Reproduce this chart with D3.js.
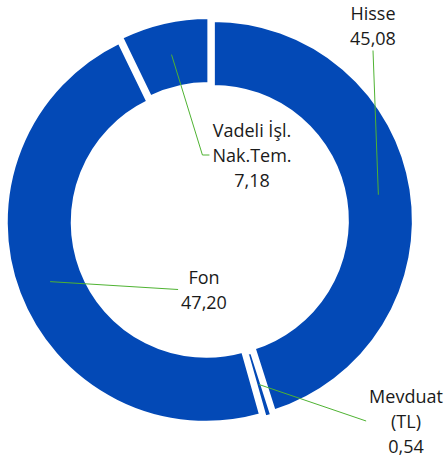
<!DOCTYPE html>
<html>
<head>
<meta charset="utf-8">
<script src="https://cdn.jsdelivr.net/npm/d3@7"></script>
<style>
  html, body { margin: 0; padding: 0; background: #fff; }
  .leader { fill: none; stroke: #4fb332; stroke-width: 1; }
  .slice { fill: #0349b6; stroke: #fff; stroke-width: 3; }
</style>
</head>
<body>
<div id="donut-chart"></div>
<script>
// data, clockwise from 12 o'clock
var categories = ['Hisse', 'Mevduat\n(TL)', 'Fon', 'Vadeli İşl.\nNak.Tem.'];
var values = [45.08, 0.54, 47.20, 7.18];

// manual label placement (label centre x, first baseline y), like the source file
var labelX = [373, 406, 204, 252];
var labelY = [19.5, 403, 284, 137];

var fmt = d3.formatLocale({ decimal: ',', thousands: '.', grouping: [3], currency: ['', ''] }).format('.2f');

var render = function() {
  var width = 445,
    height = 468;
  var cx = 209.7,
    cy = 221;
  var outerR = 200,
    innerR = 134,
    explode = 3.7,
    lineHeight = 25;

  var containerElement = d3.select('#donut-chart');
  containerElement.html('');

  var svg = containerElement
    .append('svg')
    .attr('width', width)
    .attr('height', height);

  var chartElement = svg.append('g').attr('transform', `translate(${cx},${cy})`);

  var data = categories.map((c, i) => ({ name: c, amt: values[i], lx: labelX[i], ly: labelY[i] }));

  var pie = d3
    .pie()
    .sort(null)
    .value(d => d.amt);

  var arc = d3
    .arc()
    .innerRadius(innerR)
    .outerRadius(outerR);

  var arcs = pie(data);

  // offset of each exploded slice
  var shift = function(d) {
    var a = (d.startAngle + d.endAngle) / 2;
    return [Math.sin(a) * explode, -Math.cos(a) * explode];
  };

  chartElement
    .append('g')
    .attr('class', 'slices')
    .selectAll('path')
    .data(arcs)
    .enter()
    .append('path')
    .attr('class', 'slice')
    .attr('transform', d => `translate(${shift(d)})`)
    .attr('d', arc);

  // labels (absolute coords)
  var labels = svg
    .append('g')
    .attr('class', 'labels')
    .selectAll('text')
    .data(arcs)
    .enter()
    .append('text')
    .attr('text-anchor', 'middle')
    .attr('font-family', "'Open Sans', sans-serif")
    .attr('font-size', 18)
    .attr('fill', '#1a1a1a');

  labels.each(function(d) {
    var lines = d.data.name.split('\n').concat([fmt(d.data.amt)]);
    var t = d3.select(this);
    lines.forEach((l, i) => {
      t.append('tspan')
        .attr('x', d.data.lx)
        .attr('y', d.data.ly + i * lineHeight)
        .text(l);
    });
  });

  // leader lines: from ring centroid to label
  var leaders = svg.insert('g', '.labels').attr('class', 'leaders');

  labels.each(function(d) {
    var box = this.getBBox();
    var c = arc.centroid(d);
    var s = shift(d);
    var x0 = cx + c[0] + s[0],
      y0 = cy + c[1] + s[1];
    var pts;

    if (box.y + box.height < y0 && x0 > box.x && x0 < box.x + box.width) {
      // label sits above the slice: go to bottom centre
      pts = [[x0, y0], [d.data.lx, box.y + box.height + 1]];
    } else {
      var ex = box.x - 3,
        ey = box.y + box.height / 2;
      if (Math.abs(ey - y0) > Math.abs(ex - x0)) {
        pts = [[x0, y0], [ex - 7, ey], [ex, ey]];
      } else {
        pts = [[x0, y0], [ex, ey]];
      }
    }

    leaders
      .append('path')
      .attr('class', 'leader')
      .attr('d', d3.line()(pts));
  });
};

window.onload = render;
</script>
</body>
</html>
